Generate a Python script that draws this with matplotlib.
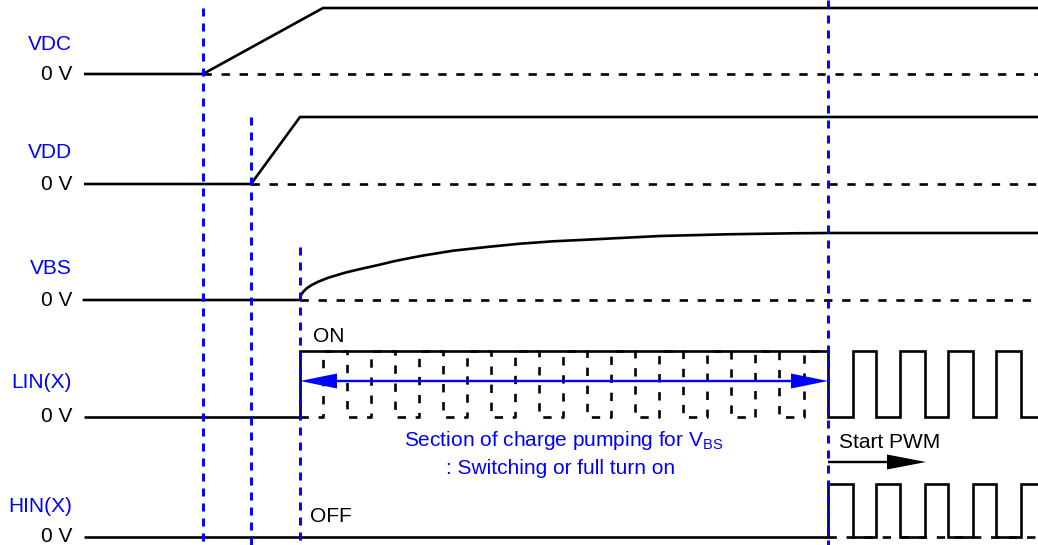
import matplotlib
matplotlib.use("Agg")
import matplotlib.pyplot as plt

plt.rcParams['font.family'] = ['Liberation Sans', 'DejaVu Sans']
plt.rcParams['mathtext.fontset'] = 'custom'
plt.rcParams['mathtext.rm'] = 'Liberation Sans'
plt.rcParams['mathtext.it'] = 'Liberation Sans'
plt.rcParams['lines.scale_dashes'] = False

# ---------------- data (time axis / level axis in diagram units) ----------------
signals = ["VDC", "VDD", "VBS", "LIN(X)", "HIN(X)"]
zero_level = [74, 184, 300, 417, 537]       # 0 V reference per row
high_level = [8, 117, 233, 351, 484]        # high level per row
label_level = [44, 153, 269, 382, 506]
t_start = 84
t_end = 1038

t_vdc_on = 203
t_vdc_full = 323
t_vdd_on = 251
t_vdd_full = 300
t_vbs_on = 300
t_pwm = 828
t_pwm_arrow_end = 926

vbs_t = [300, 301, 303.3, 306.7, 311.7, 318.3, 328.3, 345, 361.7, 378.3, 395,
         411.7, 423.3, 453, 486.7, 520, 553, 586.7, 620, 660, 727, 793, 828]
vbs_v = [300, 295, 291.7, 288.3, 285, 281.7, 277.7, 272.7, 268.7, 265, 261,
         257.7, 255.5, 250.7, 247, 243.7, 241.3, 239.7, 238, 236, 234.3, 233.3, 233]

pump_edges = [323, 347, 371, 395, 419, 443, 467, 491, 515, 539, 563, 587,
              611, 635, 659, 683, 707, 731, 755, 779, 804]
pwm_edges = [828, 853, 876, 900, 925, 948, 973, 996, 1021]

marker_t = [203, 251, 300, 828]
marker_top = [8, 117, 247, 0]

BLUE = "#0000ff"
LW = 1.9
DASH = (0, (6.0, 7.0))
BDASH = (0, (5.8, 5.0))

fig = plt.figure(figsize=(10.38, 5.45), dpi=100)
ax = fig.add_axes([0, 0, 1, 1])
ax.set_xlim(0, 1038)
ax.set_ylim(545, 0)
ax.axis("off")

kw = dict(color="k", lw=LW, solid_joinstyle="miter", solid_capstyle="butt")

# ---------------- VDC ----------------
z, h = zero_level[0], high_level[0]
ax.plot([t_start, t_vdc_on, t_vdc_full, t_end], [z, z, h, h], **kw)
ax.plot([t_vdc_on, t_end], [z, z], color="k", lw=LW, ls=DASH)

# ---------------- VDD ----------------
z, h = zero_level[1], high_level[1]
ax.plot([t_start, t_vdd_on, t_vdd_full, t_end], [z, z, h, h], **kw)
ax.plot([t_vdd_on, t_end], [z, z], color="k", lw=LW, ls=DASH)

# ---------------- VBS ----------------
z, h = zero_level[2], high_level[2]
ax.plot([t_start] + vbs_t + [t_end], [z] + vbs_v + [vbs_v[-1]],
        color="k", lw=LW, solid_joinstyle="round")
ax.plot([t_vbs_on, t_end], [z, z], color="k", lw=LW, ls=DASH)

# ---------------- LIN ----------------
z, h = zero_level[3], high_level[3]
xs = [t_start, t_vbs_on, t_vbs_on, t_pwm]
ys = [z, z, h, h]
lvl = h
for e in pwm_edges:
    lvl = z if lvl == h else h
    xs += [e, e]
    ys += [ys[-1], lvl]
xs.append(t_end)
ys.append(lvl)
ax.plot(xs, ys, **kw)

# dashed switching option during charge pumping
dx = [t_vbs_on]
dy = [z]
lvl = z
for e in pump_edges:
    nxt = h if lvl == z else z
    dx += [e, e]
    dy += [lvl, nxt]
    lvl = nxt
dx.append(t_pwm)
dy.append(lvl)
ax.plot(dx, dy, color="k", lw=LW, ls=DASH)

# ---------------- HIN ----------------
z, h = zero_level[4], high_level[4]
xs = [t_start]
ys = [z]
lvl = z
for e in pwm_edges:
    nxt = h if lvl == z else z
    xs += [e, e]
    ys += [lvl, nxt]
    lvl = nxt
xs.append(t_end)
ys.append(lvl)
ax.plot(xs, ys, **kw)
ax.plot([t_pwm, t_end], [z, z], color="k", lw=LW, ls=DASH)

# ---------------- blue markers ----------------
for t, top in zip(marker_t, marker_top):
    ax.plot([t, t], [top, 545], color=BLUE, lw=2.1, ls=BDASH)

# ---------------- labels ----------------
FS = 15
for name, zl, ll in zip(signals, zero_level, label_level):
    ax.text(72, ll, name, color=BLUE, fontsize=FS, ha="right", va="center")
    ax.text(72, zl, "0 V", color="k", fontsize=FS, ha="right", va="center")

ax.text(313, 336, "ON", fontsize=FS, ha="left", va="center")
ax.text(310, 516, "OFF", fontsize=FS, ha="left", va="center")

# charge pumping span arrow (double headed)
span_y = 381
mid = (t_vbs_on + t_pwm) / 2
for tip in (t_vbs_on, t_pwm):
    ax.arrow(mid, span_y, tip - mid, 0, width=2.4, head_width=15,
             head_length=37, length_includes_head=True, color=BLUE,
             lw=0, zorder=5)
ax.text(564, 441, "Section of charge pumping for V$_{\\mathrm{BS}}$", color=BLUE,
        fontsize=FS, ha="center", va="center")
ax.text(561, 469, ": Switching or full turn on", color=BLUE,
        fontsize=FS, ha="center", va="center")

# start PWM arrow
ax.arrow(t_pwm, 462, t_pwm_arrow_end - t_pwm, 0, width=2.4, head_width=15,
         head_length=39, length_includes_head=True, color="k", lw=0, zorder=5)
ax.text(839, 443, "Start PWM", fontsize=FS, ha="left", va="center")

fig.savefig("out.png", dpi=100)
